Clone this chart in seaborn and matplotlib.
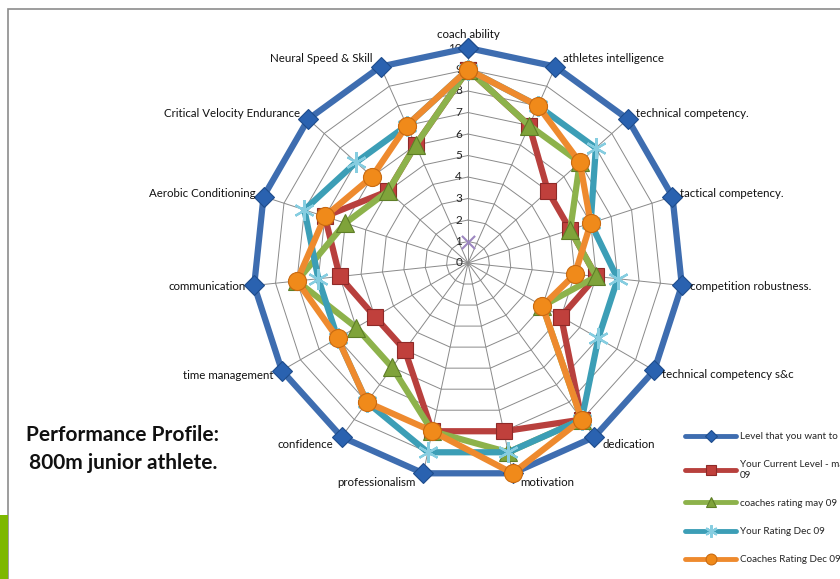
import numpy as np
import pandas as pd
import matplotlib
matplotlib.use("Agg")
import matplotlib.pyplot as plt
from matplotlib.patches import Rectangle
import seaborn as sns


#------------------------------------------------------------------------------------------------------------------------
#               Data
#------------------------------------------------------------------------------------------------------------------------
categories = ['coach ability', 'athletes intelligence', 'technical competency.', 'tactical competency.',
              'competition robustness.', 'technical competency s&c', 'dedication', 'motivation',
              'professionalism', 'confidence', 'time management', 'communication',
              'Aerobic Conditioning', 'Critical Velocity Endurance', 'Neural Speed & Skill']

level_want = [10, 10, 10, 10, 10, 10, 10, 10, 10, 10, 10, 10, 10, 10, 10]
current_may09 = [9, 7, 5, 5, 6, 5, 9, 8, 8, 5, 5, 6, 7, 5, 6]
coaches_may09 = [9, 7, 7, 5, 6, 4, 9, 9, 8, 6, 6, 8, 6, 5, 6]
your_dec09 = [9, 8, 8, 6, 7, 7, 9, 9, 9, 8, 7, 7, 8, 7, 7]
coaches_dec09 = [9, 8, 7, 6, 5, 4, 9, 10, 8, 8, 7, 8, 7, 6, 7]
extra_point = [1]

tick_values = [0, 1, 2, 3, 4, 5, 6, 7, 8, 9, 10]

series_names = ['Level that you want to be',
                'Your Current Level - may\n09',
                'coaches rating may 09',
                'Your Rating Dec 09',
                'Coaches Rating Dec 09.']

#------------------------------------------------------------------------------------------------------------------------
#               Styling
#------------------------------------------------------------------------------------------------------------------------
sns.set_theme(style="white")
plt.rcParams['font.family'] = ['Lato', 'DejaVu Sans']

asterisk = (6, 2, 0)
styles = [
    dict(color='#3E6DB0', marker='D', ms=10, mfc='#2A62B0', mec='#1E4C8C', mew=0.8),
    dict(color='#B8403D', marker='s', ms=12, mfc='#C0403C', mec='#8E2A28', mew=0.8),
    dict(color='#8DB24B', marker='^', ms=13, mfc='#7FA33A', mec='#5E7E27', mew=0.8),
    dict(color='#3C9EB6', marker=asterisk, ms=15, mfc='#86CDE0', mec='#86CDE0', mew=1.6),
    dict(color='#EE8A2E', marker='o', ms=13, mfc='#F08A1A', mec='#C96A10', mew=0.8),
]

n = len(categories)
theta = np.linspace(0, 2 * np.pi, n, endpoint=False)
theta_closed = np.append(theta, 0)

fig = plt.figure(figsize=(8.4, 5.79), dpi=100)
fig.patch.set_facecolor('white')
ax = fig.add_axes([253 / 840, (579 - 478) / 579, 430 / 840, 430 / 579], projection='polar')
ax.set_theta_zero_location('N')
ax.set_theta_direction(-1)
ax.set_ylim(0, 10)
ax.grid(False)
ax.spines['polar'].set_visible(False)
ax.set_xticks([])
ax.set_yticks([])
ax.patch.set_alpha(0)

# polygon grid
for r in tick_values[1:]:
    ax.plot(theta_closed, [r] * (n + 1), color='#8a8a8a', lw=0.7, zorder=1)
for t in theta:
    ax.plot([t, t], [0, 10], color='#8a8a8a', lw=0.7, zorder=1)

# value labels along top spoke
for v in tick_values:
    ax.annotate(str(v), xy=(0, v), xytext=(-6, 0), textcoords='offset pixels',
                ha='right', va='center', fontsize=8.5, color='#222222')

# series
all_series = [level_want, current_may09, coaches_may09, your_dec09, coaches_dec09]
handles = []
for i, (vals, name, st) in enumerate(zip(all_series, series_names, styles)):
    df = pd.DataFrame({'theta': theta_closed, 'value': vals + vals[:1]})
    sns.lineplot(data=df, x='theta', y='value', sort=False, estimator=None, ax=ax,
                 color=st['color'], lw=4.5, marker=st['marker'], markersize=st['ms'],
                 markerfacecolor=st['mfc'], markeredgecolor=st['mec'],
                 markeredgewidth=st['mew'], clip_on=False, zorder=3 + i)
    handles.append(ax.lines[-1])

# the lone point of a sixth series
sns.scatterplot(x=theta[:1], y=extra_point, ax=ax, marker='x', s=90, color='#9C86C0',
                linewidth=1.5, zorder=9, legend=False)
ax.set_xlabel('')
ax.set_ylabel('')
ax.set_ylim(0, 10)

# category labels
for t, lab in zip(theta, categories):
    s, c = np.sin(t), np.cos(t)
    if abs(s) < 0.05:
        ha, dx, dy = 'center', 0, 14
    else:
        ha = 'left' if s > 0 else 'right'
        dx = 8 if s > 0 else -8
        dy = 9 * c
    ax.annotate(lab, xy=(t, 10), xytext=(dx, dy), textcoords='offset pixels',
                ha=ha, va='center', fontsize=8.3, color='#111111', annotation_clip=False)

# legend
leg = fig.legend(handles, series_names, loc='upper left', bbox_to_anchor=(683 / 840, 1 - 430 / 579),
                 frameon=False, fontsize=7.1, handlelength=5.2, handletextpad=0.4,
                 labelspacing=1.95, markerscale=0.6, borderaxespad=0, borderpad=0.2)
for h in leg.legend_handles:
    h.set_linewidth(3.5)

# title
fig.text(123 / 840, 1 - 449 / 579, 'Performance Profile:\n800m junior athlete.', ha='center', va='center',
         fontsize=15, fontweight='bold', color='#111111', linespacing=1.45)

# slide frame and green corner
fig.patches.append(Rectangle((8 / 840, -0.1), 1.2, (579 - 9) / 579 + 0.1, transform=fig.transFigure,
                             fill=False, edgecolor='#8c8c8c', lw=1.2))
fig.patches.append(Rectangle((0, 0), 8 / 840, 64 / 579, transform=fig.transFigure,
                             facecolor='#7DB800', edgecolor='none'))

fig.savefig('out.png', dpi=100, facecolor='white')
